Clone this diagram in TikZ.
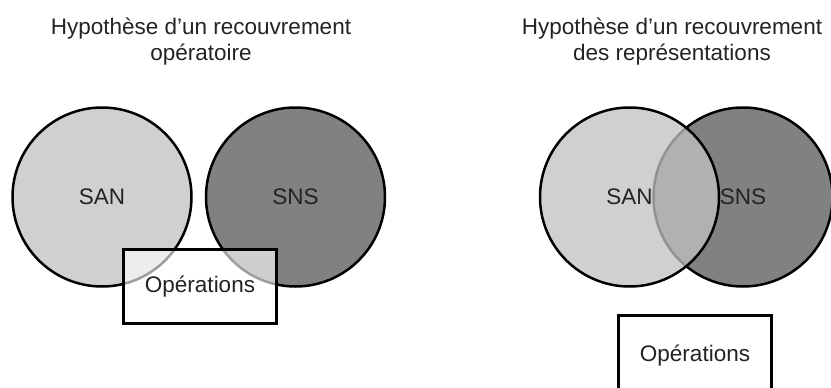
\documentclass[tikz,border=0pt]{standalone}
\usepackage{fontspec}
\setmainfont{Liberation Sans}
\usepackage{xcolor}
\usepackage{tikz}
\definecolor{sanGray}{RGB}{192,193,195}
\definecolor{snsGray}{RGB}{128,129,131}
\definecolor{inkGray}{RGB}{35,35,35}

\begin{document}
\begin{tikzpicture}[
    x=1pt, y=-1pt,
    every node/.style={font=\fontsize{22.5}{26}\selectfont, text=inkGray},
    san/.style={circle, draw=black, line width=2.5pt, fill=sanGray, fill opacity=0.76, text opacity=1, minimum size=179pt},
    sns/.style={circle, draw=black, line width=2.5pt, fill=snsGray, minimum size=179pt},
    ops/.style={draw=black, line width=3pt, fill=white, fill opacity=0.62, text opacity=1, minimum width=153pt, minimum height=74pt},
    title/.style={align=center, inner sep=0pt, anchor=north}
]
\useasboundingbox (0,0) rectangle (831,388);
\node[title] (TL) at (201,18) {Hypothèse d’un recouvrement\\opératoire};
\node[title] (TR) at (672,18) {Hypothèse d’un recouvrement\\des représentations};
\node[san] (SANL) at (102,197) {SAN};
\node[sns] (SNSL) at (295.5,197) {SNS};
\node[ops] (OPL) at (200,286.5) {Opérations};
\node[sns] (SNSR) at (743,197) {SNS};
\node[san] (SANR) at (629.5,197) {SAN};
\node[ops, fill opacity=1, minimum height=80pt] (OPR) at (695,355.5) {Opérations};
\end{tikzpicture}
\end{document}
